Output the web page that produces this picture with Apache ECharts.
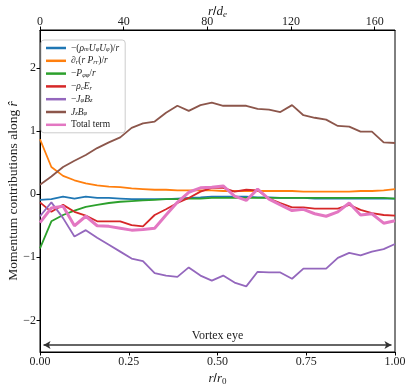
<!DOCTYPE html>
<html>
<head>
<meta charset="utf-8">
<script src="https://cdn.jsdelivr.net/npm/echarts@6/dist/echarts.min.js"></script>
<style>
  html, body { margin: 0; padding: 0; background: #fff; }
  #chart { width: 411px; height: 389px; }
</style>
</head>
<body>
<div id="chart"></div>
<script>
// r / r0 sample positions
var rPos = [0, 0.032, 0.065, 0.097, 0.129, 0.161, 0.194, 0.226, 0.258, 0.29, 0.323, 0.355, 0.387, 0.419, 0.452, 0.484,
  0.516, 0.548, 0.581, 0.613, 0.645, 0.677, 0.71, 0.742, 0.774, 0.806, 0.839, 0.871, 0.903, 0.935, 0.968, 1.0];

// -(rho_m U_phi U_phi)/r
var inertia = [-0.09, -0.08, -0.04, -0.07, -0.04, -0.06, -0.06, -0.07, -0.08, -0.08, -0.08, -0.08, -0.07, -0.06, -0.05, -0.04,
  -0.04, -0.04, -0.04, -0.05, -0.05, -0.06, -0.06, -0.06, -0.07, -0.07, -0.07, -0.07, -0.07, -0.07, -0.07, -0.07];
// d_r(r P_rr)/r
var pressRR = [0.87, 0.43, 0.29, 0.22, 0.17, 0.14, 0.12, 0.11, 0.09, 0.08, 0.07, 0.07, 0.06, 0.06, 0.06, 0.06,
  0.05, 0.05, 0.05, 0.05, 0.05, 0.05, 0.05, 0.04, 0.04, 0.04, 0.04, 0.04, 0.05, 0.05, 0.06, 0.08];
// -P_phiphi/r
var pressPP = [-0.86, -0.43, -0.33, -0.26, -0.20, -0.17, -0.14, -0.12, -0.11, -0.10, -0.09, -0.08, -0.08, -0.07, -0.07, -0.06,
  -0.06, -0.06, -0.06, -0.06, -0.06, -0.06, -0.06, -0.06, -0.06, -0.06, -0.06, -0.06, -0.06, -0.06, -0.06, -0.07];
// -rho_c E_r
var electric = [-0.13, -0.28, -0.17, -0.28, -0.34, -0.43, -0.43, -0.43, -0.49, -0.51, -0.33, -0.24, -0.14, -0.06, 0.04, 0.10,
  0.10, 0.04, 0.07, 0.06, -0.07, -0.14, -0.21, -0.21, -0.23, -0.23, -0.23, -0.17, -0.25, -0.30, -0.33, -0.34];
// -J_phi B_z
var jphiBz = [-0.35, -0.13, -0.38, -0.67, -0.57, -0.69, -0.80, -0.91, -1.02, -1.06, -1.25, -1.29, -1.31, -1.16, -1.29, -1.37,
  -1.29, -1.40, -1.46, -1.23, -1.24, -1.24, -1.34, -1.18, -1.18, -1.18, -1.01, -0.93, -0.97, -0.91, -0.87, -0.79];
// J_z B_phi
var jzBphi = [0.15, 0.28, 0.43, 0.53, 0.62, 0.73, 0.82, 0.90, 1.05, 1.12, 1.15, 1.29, 1.40, 1.32, 1.41, 1.45,
  1.40, 1.40, 1.40, 1.35, 1.34, 1.30, 1.41, 1.25, 1.21, 1.18, 1.08, 1.07, 0.99, 0.99, 0.82, 0.81];
// total
var total = [-0.45, -0.22, -0.19, -0.50, -0.35, -0.50, -0.51, -0.54, -0.57, -0.56, -0.54, -0.33, -0.13, 0.03, 0.10, 0.11,
  0.13, -0.03, -0.10, 0.08, -0.08, -0.17, -0.26, -0.24, -0.31, -0.35, -0.28, -0.14, -0.33, -0.31, -0.46, -0.42];

var yTicks = [-2, -1, 0, 1, 2];
var eyeStart = 0.01, eyeEnd = 0.99, eyeY = -2.39;

var serif = 'Liberation Serif';

function pairs(vals) {
  return rPos.map(function (x, i) { return [x, vals[i]]; });
}

var labels = {
  inertia: '−({i|ρ}{s|m}{i|U}{s|φ}{i|U}{s|φ})/{i|r}',
  pressRR: '{i|∂}{s|r}({i|r P}{s|rr})/{i|r}',
  pressPP: '−{i|P}{s|φφ}/{i|r}',
  electric: '−{i|ρ}{s|c}{i|E}{s|r}',
  jphiBz: '−{i|J}{s|φ}{i|B}{s|z}',
  jzBphi: '{i|J}{s|z}{i|B}{s|φ}',
  total: 'Total term'
};

var chart = echarts.init(document.getElementById('chart'));

function line(name, vals, color, width) {
  return {
    name: name,
    type: 'line',
    xAxisIndex: 0,
    data: pairs(vals),
    showSymbol: false,
    symbol: 'none',
    color: color,
    lineStyle: { color: color, width: width }
  };
}

var series = [
  line('inertia', inertia, '#1f77b4', 1.8),
  line('pressRR', pressRR, '#ff7f0e', 1.8),
  line('pressPP', pressPP, '#2ca02c', 1.8),
  line('electric', electric, '#d62728', 1.8),
  line('jphiBz', jphiBz, '#9467bd', 1.8),
  line('jzBphi', jzBphi, '#8c564b', 1.8),
  line('total', total, '#e377c2', 3)
];

// vortex eye arrow
series.push({
  name: 'eye',
  type: 'line',
  data: [],
  markLine: {
    silent: true,
    symbol: ['arrow', 'arrow'],
    symbolSize: [6, 7],
    lineStyle: { color: '#333', width: 1.5, type: 'solid' },
    label: {
      show: true,
      position: 'middle',
      formatter: 'Vortex eye',
      fontFamily: serif,
      fontSize: 12,
      color: '#222',
      distance: 3
    },
    data: [[{ coord: [eyeStart, eyeY] }, { coord: [eyeEnd, eyeY] }]]
  }
});

var axisText = { fontFamily: serif, fontSize: 12, color: '#222' };
var nameRich = {
  i: { fontFamily: serif, fontStyle: 'italic', fontSize: 13, color: '#222' },
  s: { fontFamily: serif, fontStyle: 'italic', fontSize: 9, color: '#222', verticalAlign: 'bottom', padding: [6, 0, 0, 0] },
  n: { fontFamily: serif, fontSize: 9, color: '#222', padding: [6, 0, 0, 0] }
};

chart.setOption({
  animation: false,
  backgroundColor: '#fff',
  grid: {
    left: 40, right: 16, top: 30, bottom: 37,
    outerBoundsMode: 'none',
    containLabel: false,
    show: true, borderColor: '#000', borderWidth: 1
  },
  legend: {
    orient: 'vertical',
    left: 41,
    top: 40,
    data: ['inertia', 'pressRR', 'pressPP', 'electric', 'jphiBz', 'jzBphi', 'total'],
    icon: 'rect',
    itemWidth: 20,
    itemHeight: 2.5,
    itemGap: 2.8,
    padding: [3, 6, 3, 5],
    borderColor: '#ccc',
    borderWidth: 1,
    borderRadius: 3,
    backgroundColor: 'rgba(255,255,255,0.8)',
    formatter: function (name) { return labels[name]; },
    textStyle: {
      fontFamily: serif,
      fontSize: 9.5,
      lineHeight: 10,
      color: '#222',
      rich: {
        i: { fontFamily: serif, fontStyle: 'italic', fontSize: 9.5, color: '#222' },
        s: { fontFamily: serif, fontStyle: 'italic', fontSize: 6.5, color: '#222', verticalAlign: 'bottom', padding: [4, 0, 0, 0] }
      }
    }
  },
  xAxis: [
    {
      type: 'value',
      min: 0,
      max: 1,
      interval: 0.25,
      name: '{i|r}/{i|r}{n|0}',
      nameLocation: 'middle',
      nameGap: 19,
      nameMoveOverlap: false,
      nameTextStyle: { rich: nameRich },
      axisLine: { show: true, onZero: false, lineStyle: { color: '#000', width: 1 } },
      axisTick: { show: true, length: 3.5, lineStyle: { color: '#000' } },
      axisLabel: Object.assign({ margin: 4, formatter: function (v) { return v.toFixed(2); } }, axisText),
      splitLine: { show: false }
    },
    {
      type: 'value',
      position: 'top',
      min: 0,
      max: 169.7,
      interval: 40,
      name: '{i|r}/{i|d}{s|e}',
      nameLocation: 'middle',
      nameGap: 11,
      nameMoveOverlap: false,
      nameTextStyle: { rich: nameRich },
      axisLine: { show: true, onZero: false, lineStyle: { color: '#000', width: 1 } },
      axisTick: { show: true, length: 3.5, lineStyle: { color: '#000' } },
      axisLabel: Object.assign({ margin: 2, showMaxLabel: false }, axisText),
      splitLine: { show: false }
    }
  ],
  yAxis: {
    type: 'value',
    min: -2.5,
    max: 2.6,
    name: 'Momentum contributions along {i|r̂}',
    nameLocation: 'middle',
    nameGap: 20,
    nameMoveOverlap: false,
    nameTextStyle: {
      fontFamily: serif, fontSize: 13.5, color: '#222',
      rich: { i: { fontFamily: serif, fontStyle: 'italic', fontSize: 13.5, color: '#222' } }
    },
    axisLine: { show: true, onZero: false, lineStyle: { color: '#000', width: 1 } },
    axisTick: { show: true, length: 3.5, customValues: yTicks, lineStyle: { color: '#000' } },
    axisLabel: Object.assign({
      margin: 4,
      customValues: yTicks,
      formatter: function (v) { return String(v).replace('-', '−'); }
    }, axisText),
    splitLine: { show: false }
  },
  series: series
});
</script>
</body>
</html>
